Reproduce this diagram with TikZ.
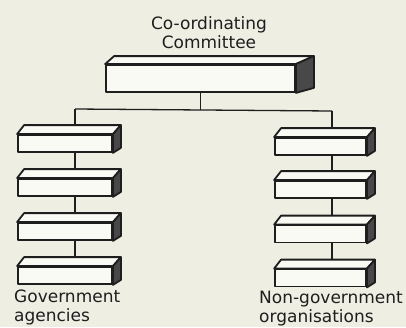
\documentclass[tikz,border=0pt]{standalone}
\usepackage{fontspec}
\setmainfont{DejaVu Sans}
\pgfdeclarelayer{bg}
\pgfsetlayers{bg,main}
\definecolor{paper}{RGB}{239,238,227}
\definecolor{boxwhite}{RGB}{250,250,244}
\definecolor{sidegray}{RGB}{72,72,72}
\definecolor{ink}{RGB}{30,30,30}
\tikzset{
  slabline/.style={draw=ink, line width=1.8pt, line join=round},
  slabfront/.style={slabline, fill=boxwhite, rectangle, inner sep=0pt, minimum width=#1},
  smallslab/.style={slabfront=#1, minimum height=17pt},
  conn/.style={draw=ink, line width=1.3pt},
  lbl/.style={inner sep=0pt, text=ink, font=\fontsize{17}{19}\selectfont}
}
\newcommand\slabfaces[4]{%
  \draw[slabline, fill=boxwhite] (#1.north west) -- ++(#2,-#4) -- ([shift={(#3,-#4)}]#1.north east) -- (#1.north east) -- cycle;
  \draw[slabline, fill=sidegray] (#1.north east) -- ++(#3,-#4) -- ([shift={(#3,-5)}]#1.south east) -- (#1.south east) -- cycle;
}
\begin{document}
\begin{tikzpicture}[x=1pt,y=-1pt]
\useasboundingbox (0,0) rectangle (406,327);
\begin{pgfonlayer}{bg}
  \fill[paper] (0,0) rectangle (406,327);
\end{pgfonlayer}

% top box
\node[slabfront=189pt, minimum height=27pt] (T) at (200.5,78.5) {};
\slabfaces{T}{9}{18}{8}

% left column
\node[smallslab=94pt] (L1) at (65,143.5) {};
\node[smallslab=94pt] (L2) at (65,187.5) {};
\node[smallslab=94pt] (L3) at (65,231.5) {};
\node[smallslab=94pt] (L4) at (65,275.5) {};
\foreach \n in {L1,L2,L3,L4} {\slabfaces{\n}{7}{8}{9}}

% right column
\node[smallslab=91pt] (R1) at (320.5,146.5) {};
\node[smallslab=91pt] (R2) at (320.5,189.5) {};
\node[smallslab=91pt] (R3) at (320.5,234) {};
\node[smallslab=91pt] (R4) at (320.5,278) {};
\foreach \n in {R1,R2,R3,R4} {\slabfaces{\n}{7}{8}{9}}

% junctions
\coordinate (jl) at (75,109);
\coordinate (jr) at (332,111);
\coordinate (jt) at (200.5,110);

\begin{pgfonlayer}{bg}
  \draw[conn] (T.center) -- (jt);
  \draw[conn] (jl) -- (jr);
  \draw[conn] (jl) -- ([xshift=10pt]L1.center);
  \draw[conn] ([xshift=10pt]L1.center) -- ([xshift=10pt]L2.center);
  \draw[conn] ([xshift=10pt]L2.center) -- ([xshift=10pt]L3.center);
  \draw[conn] ([xshift=10pt]L3.center) -- ([xshift=10pt]L4.center);
  \draw[conn] (jr) -- ([xshift=11.5pt]R1.center);
  \draw[conn] ([xshift=11.5pt]R1.center) -- ([xshift=11.5pt]R2.center);
  \draw[conn] ([xshift=11.5pt]R2.center) -- ([xshift=11.5pt]R3.center);
  \draw[conn] ([xshift=11.5pt]R3.center) -- ([xshift=11.5pt]R4.center);
\end{pgfonlayer}

% labels
\node[lbl, align=center, anchor=north] (tt) at (209,16.5) {Co-ordinating\\Committee};
\node[lbl, align=left, anchor=north west] (gl) at (14,290) {Government\\agencies};
\node[lbl, align=left, anchor=north west] (nl) at (259,291) {Non-government\\organisations};
\end{tikzpicture}
\end{document}
